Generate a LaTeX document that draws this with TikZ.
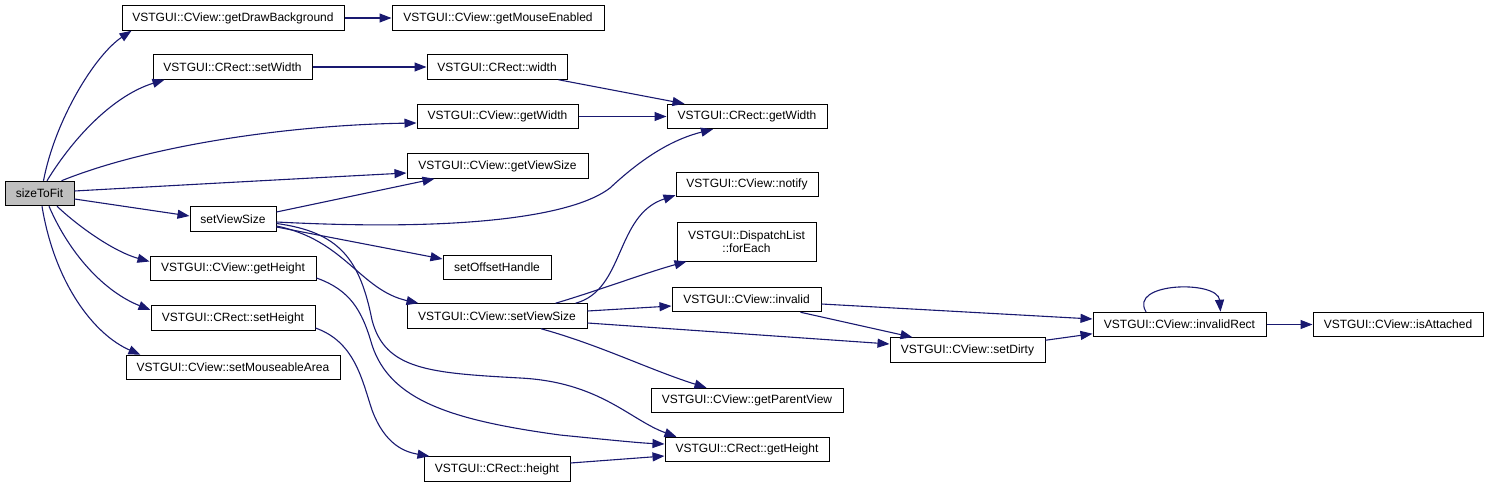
\documentclass[tikz,border=0pt]{standalone}
\usepackage{fontspec}
\setmainfont{Liberation Sans}
\usetikzlibrary{arrows.meta}
\definecolor{edgecol}{HTML}{191970}
\definecolor{rootfill}{HTML}{BFBFBF}
\begin{document}
\begin{tikzpicture}[x=1pt,y=-1pt,
  fn/.style={draw=black,line width=1pt,fill=white,inner sep=0pt,
    minimum height=24.5pt,font=\fontsize{12}{13.5}\selectfont,align=center},
  root/.style={fn,fill=rootfill},
  edge/.style={draw=edgecol,line width=1.1pt,-{Triangle[length=12pt,width=9pt]}}]
\useasboundingbox (0,0) rectangle (1489,487);
% nodes
\node[root,minimum width=69pt] (stf) at (39.5,193.5) {sizeToFit};
\node[fn,minimum width=222pt] (gdb) at (233,18) {VSTGUI::CView::getDrawBackground};
\node[fn,minimum width=212pt] (gme) at (498,18) {VSTGUI::CView::getMouseEnabled};
\node[fn,minimum width=159pt] (rsw) at (232.5,67) {VSTGUI::CRect::setWidth};
\node[fn,minimum width=140pt] (rw) at (497,67) {VSTGUI::CRect::width};
\node[fn,minimum width=161pt] (vgw) at (497.5,116.5) {VSTGUI::CView::getWidth};
\node[fn,minimum width=160pt] (rgw) at (747,116.5) {VSTGUI::CRect::getWidth};
\node[fn,minimum width=181pt] (gvs) at (497.5,166) {VSTGUI::CView::getViewSize};
\node[fn,minimum width=86pt] (svs) at (233,219) {setViewSize};
\node[fn,minimum width=142pt] (ntf) at (747,184.5) {VSTGUI::CView::notify};
\node[fn,minimum width=139pt,minimum height=39pt] (fe) at (746.5,241.5) {VSTGUI::DispatchList\\::forEach};
\node[fn,minimum width=108pt] (soh) at (497,267.5) {setOffsetHandle};
\node[fn,minimum width=166pt] (vgh) at (233,268.5) {VSTGUI::CView::getHeight};
\node[fn,minimum width=149pt] (inv) at (746.5,299.5) {VSTGUI::CView::invalid};
\node[fn,minimum width=180pt] (cvs) at (497,316) {VSTGUI::CView::setViewSize};
\node[fn,minimum width=164pt] (rsh) at (233,318) {VSTGUI::CRect::setHeight};
\node[fn,minimum width=173pt] (ir) at (1179.5,324.5) {VSTGUI::CView::invalidRect};
\node[fn,minimum width=170pt] (ia) at (1398,324.5) {VSTGUI::CView::isAttached};
\node[fn,minimum width=155pt] (sd) at (967.5,350) {VSTGUI::CView::setDirty};
\node[fn,minimum width=214pt] (sma) at (233,367.5) {VSTGUI::CView::setMouseableArea};
\node[fn,minimum width=192pt] (gpv) at (747,400.5) {VSTGUI::CView::getParentView};
\node[fn,minimum width=164pt] (rgh) at (747,449.5) {VSTGUI::CRect::getHeight};
\node[fn,minimum width=146pt] (rh) at (497,469) {VSTGUI::CRect::height};
% edges from sizeToFit
\draw[edge] ([xshift=4]stf.north) .. controls (55,120) and (95,55) .. ([xshift=10]gdb.south west);
\draw[edge] ([xshift=7.5]stf.north) .. controls (75,135) and (115,95) .. ([xshift=12]rsw.south west);
\draw[edge] ([xshift=22]stf.north) .. controls (150,145) and (290,125) .. ([yshift=-6.5]vgw.west);
\draw[edge] ([yshift=2.5]stf.east) .. controls (200,184) and (330,177) .. ([yshift=-7]gvs.west);
\draw[edge] ([yshift=-5.5]stf.east) -- ([yshift=3]svs.west);
\draw[edge] ([xshift=17.5]stf.south) .. controls (80,228) and (115,252) .. ([yshift=7]vgh.west);
\draw[edge] ([xshift=9.5]stf.south) .. controls (70,255) and (105,292) .. ([yshift=8]rsh.west);
\draw[edge] ([xshift=2.5]stf.south) .. controls (55,285) and (95,335) .. ([xshift=15]sma.north west);
% edges from setViewSize
\draw[edge] ([yshift=7]svs.east) -- ([xshift=28]gvs.south west);
\draw[edge] ([yshift=-3]svs.east) .. controls (470,232) and (575,215) .. (610,188)
  .. controls (640,160) and (670,140) .. ([xshift=-34]rgw.south);
\draw[edge] ([yshift=-8]svs.east) -- ([yshift=8.5]soh.west);
\draw[edge] ([yshift=-7]svs.east) .. controls (345,240) and (360,290) .. ([xshift=12]cvs.north west);
\draw[edge] ([yshift=-4.5]svs.east) .. controls (340,232) and (360,260) .. (372,320)
  .. controls (385,370) and (430,373) .. (520,378)
  .. controls (600,382) and (630,420) .. ([xshift=12]rgh.north west);
% other edges
\draw[edge] ([yshift=-9.5]vgh.east) .. controls (350,290) and (362,310) .. (372,345)
  .. controls (390,400) and (450,420) .. (560,435)
  .. controls (610,440) and (640,443) .. ([yshift=5.5]rgh.west);
\draw[edge] ([yshift=-10]rsh.east) .. controls (355,342) and (362,380) .. (372,410)
  .. controls (385,445) and (405,452) .. ([xshift=6]rh.north west);
\draw[edge] ([yshift=6]rh.east) -- ([yshift=-6.5]rgh.west);
\draw[edge] (gdb.east) -- (gme.west);
\draw[edge] (rsw.east) -- (rw.west);
\draw[edge] ([xshift=-9]rw.south east) -- ([xshift=18]rgw.north west);
\draw[edge] (vgw.east) -- (rgw.west);
\draw[edge] ([xshift=-12]cvs.north east) .. controls (625,290) and (615,215) .. ([yshift=2]ntf.south west);
\draw[edge] ([xshift=-32]cvs.north east) .. controls (600,290) and (645,273) .. ([xshift=10]fe.south west);
\draw[edge] ([yshift=5]cvs.east) -- ([yshift=-6.5]inv.west);
\draw[edge] ([yshift=-7]cvs.east) -- ([yshift=6]sd.west);
\draw[edge] ([xshift=44]cvs.south) .. controls (600,345) and (650,370) .. ([xshift=56]gpv.north west);
\draw[edge] ([yshift=-4.5]inv.east) -- ([yshift=5.5]ir.west);
\draw[edge] ([xshift=-21]inv.south east) -- ([xshift=23]sd.north west);
\draw[edge] ([yshift=-3]sd.north east) -- ([yshift=3.5]ir.south west);
\draw[edge] ([xshift=-33.5]ir.north) .. controls (1128,282) and (1218,280) .. ([xshift=41]ir.north);
\draw[edge] (ir.east) -- (ia.west);
\end{tikzpicture}
\end{document}
